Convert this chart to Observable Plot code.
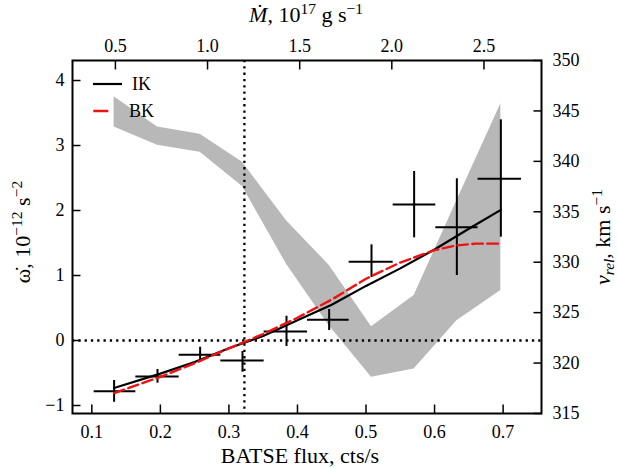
<!DOCTYPE html>
<html>
<head>
<meta charset="utf-8">
<script src="https://cdn.jsdelivr.net/npm/d3@7"></script>
<script src="https://cdn.jsdelivr.net/npm/@observablehq/plot@0.6"></script>
<style>
  html, body { margin: 0; padding: 0; background: #fff; }
  #chart { width: 617px; height: 468px; }
  #chart svg, #chart svg text { font-family: "Liberation Serif", "Times New Roman", Times, serif !important; }
</style>
</head>
<body>
<div id="chart"></div>
<script>
// ---- data ----
const fluxBins = [0.1325, 0.1958, 0.2580, 0.3198, 0.3840, 0.4462, 0.5080, 0.5702, 0.6325, 0.6967];
const fluxLo   = [0.1034, 0.1642, 0.2274, 0.2882, 0.3514, 0.4147, 0.4754, 0.5396, 0.6018, 0.6635];
const fluxHi   = [0.1642, 0.2274, 0.2882, 0.3514, 0.4147, 0.4754, 0.5396, 0.6018, 0.6635, 0.7268];
const omegaObs = [-0.78, -0.554, -0.22, -0.308, 0.138, 0.318, 1.21, 2.092, 1.743, 2.488];
const omegaLo  = [-0.95, -0.657, -0.334, -0.488, -0.092, 0.154, 0.97, 1.58, 1.0, 1.59];
const omegaHi  = [-0.615, -0.446, -0.103, -0.169, 0.374, 0.477, 1.472, 2.6, 2.488, 3.395];

const vrelLo = [343.4, 341.6, 340.9, 337.5, 329.8, 323.7, 318.6, 319.4, 324.2, 327.2];
const vrelHi = [346.4, 343.4, 342.7, 339.9, 334.1, 329.7, 323.6, 326.7, 336.1, 345.7];

const ikFlux  = [0.1325, 0.2, 0.25, 0.3, 0.35, 0.4, 0.45, 0.5, 0.55, 0.6, 0.65, 0.6967];
const ikOmega = [-0.73, -0.51, -0.33, -0.12, 0.07, 0.31, 0.55, 0.84, 1.11, 1.40, 1.72, 2.01];

const bkFlux  = [0.1325, 0.2, 0.25, 0.3, 0.35, 0.4, 0.45, 0.5, 0.55, 0.6, 0.63, 0.66, 0.6967];
const bkOmega = [-0.81, -0.56, -0.35, -0.12, 0.10, 0.35, 0.63, 0.95, 1.20, 1.39, 1.46, 1.49, 1.49];

const fluxTicks  = [0.1, 0.2, 0.3, 0.4, 0.5, 0.6, 0.7];
const mdotTicks  = [0.5, 1.0, 1.5, 2.0, 2.5];
const omegaTicks = [-1, 0, 1, 2, 3, 4];
const vrelTicks  = [315, 320, 325, 330, 335, 340, 345, 350];
const mdotMark = 1.2;

// ---- scale relations ----
const xDomain = [0.0718, 0.756];
const yDomain = [-1.123, 4.308];
const vDomain = [315, 350];
const mdotPerFlux = 3.72;
const mdotToFlux = m => m / mdotPerFlux;
const vToW = v => yDomain[0] + (v - vDomain[0]) / (vDomain[1] - vDomain[0]) * (yDomain[1] - yDomain[0]);
const wToV = w => vDomain[0] + (w - yDomain[0]) / (yDomain[1] - yDomain[0]) * (vDomain[1] - vDomain[0]);
const minus = d => (d < 0 ? "\u2212" + Math.abs(d) : String(d));

const crosses = fluxBins.map((f, i) => ({f, lo: fluxLo[i], hi: fluxHi[i], w: omegaObs[i], wlo: omegaLo[i], whi: omegaHi[i]}));
const band = fluxBins.map((f, i) => ({f, lo: vrelLo[i], hi: vrelHi[i]}));
const ik = ikFlux.map((f, i) => ({f, w: ikOmega[i]}));
const bk = bkFlux.map((f, i) => ({f, w: bkOmega[i]}));

const FONT = "Liberation Serif, Times New Roman, Times, serif";
const RED = "#ee1111";
const TICK = 8.5;

// legend handles (drawn below the band, as in the reference)
const legendLines = () => {
  const g = d3.create("svg:g");
  g.append("line").attr("x1", 93).attr("x2", 122).attr("y1", 84).attr("y2", 84)
    .attr("stroke", "black").attr("stroke-width", 2.2);
  g.append("line").attr("x1", 93.3).attr("x2", 122).attr("y1", 111).attr("y2", 111)
    .attr("stroke", RED).attr("stroke-width", 2.4).attr("stroke-dasharray", "15,6");
  return g.node();
};
const legendText = () => {
  const g = d3.create("svg:g").attr("font-size", 18).attr("fill", "black");
  g.append("text").attr("x", 141.5).attr("y", 90).text("IK");
  g.append("text").attr("x", 141.5).attr("y", 117).text("BK");
  return g.node();
};

const chart = Plot.plot({
  width: 617,
  height: 468,
  marginLeft: 72,
  marginRight: 76,
  marginTop: 60,
  marginBottom: 55,
  style: {fontFamily: FONT, fontSize: "18px", background: "white", color: "black", overflow: "visible"},
  x: {domain: xDomain},
  y: {domain: yDomain},
  marks: [
    legendLines,
    Plot.areaY(band, {x: "f", y1: d => vToW(d.lo), y2: d => vToW(d.hi), fill: "#b8b8b8"}),
    Plot.ruleY([0], {stroke: "black", strokeWidth: 2.3, strokeDasharray: "2.3,4"}),
    Plot.ruleX([mdotToFlux(mdotMark)], {stroke: "black", strokeWidth: 2.3, strokeDasharray: "2.3,4"}),
    Plot.ruleX(crosses, {x: "f", y1: "wlo", y2: "whi", stroke: "black", strokeWidth: 2}),
    Plot.ruleY(crosses, {y: "w", x1: "lo", x2: "hi", stroke: "black", strokeWidth: 2}),
    Plot.line(ik, {x: "f", y: "w", stroke: "black", strokeWidth: 2.2}),
    Plot.line(bk, {x: "f", y: "w", stroke: RED, strokeWidth: 2.4, strokeDasharray: "10.5,4.5"}),
    legendText,
    Plot.axisX(fluxTicks, {anchor: "bottom", tickSize: -TICK, tickPadding: 20.5, strokeWidth: 1.5, tickFormat: d => d.toFixed(1), label: null, fontSize: 18}),
    Plot.axisX(mdotTicks.map(mdotToFlux), {anchor: "top", tickSize: -TICK, tickPadding: 17.5, strokeWidth: 1.5, tickFormat: d => (d * mdotPerFlux).toFixed(1), label: null, fontSize: 18}),
    Plot.axisY(omegaTicks, {anchor: "left", tickSize: -TICK, tickPadding: 16.5, strokeWidth: 1.5, tickFormat: minus, label: null, fontSize: 18}),
    Plot.axisY(vrelTicks.map(vToW), {anchor: "right", tickSize: -TICK, tickPadding: 19.5, strokeWidth: 1.5, tickFormat: d => String(Math.round(wToV(d))), label: null, fontSize: 18}),
    Plot.frame({stroke: "black", strokeWidth: 2})
  ]
});

document.getElementById("chart").appendChild(chart);

// axis titles
const svgSel = d3.select(chart);
const titles = svgSel.append("g").attr("fill", "black").attr("font-size", 22);

const topTitle = titles.append("text").attr("x", 306).attr("y", 22).attr("text-anchor", "middle");
topTitle.append("tspan").attr("font-style", "italic").text("\u1E40");
topTitle.append("tspan").text(", 10");
topTitle.append("tspan").attr("font-size", 15.5).attr("dy", -8).text("17");
topTitle.append("tspan").attr("dy", 8).text(" g s");
topTitle.append("tspan").attr("font-size", 15.5).attr("dy", -8).text("\u22121");

titles.append("text").attr("x", 300).attr("y", 463).attr("text-anchor", "middle").text("BATSE flux, cts/s");

const leftTitle = titles.append("text").attr("transform", "translate(30,232) rotate(-90)").attr("text-anchor", "middle");
leftTitle.append("tspan").text("\u03C9\u0307");
leftTitle.append("tspan").text(", 10");
leftTitle.append("tspan").attr("font-size", 15.5).attr("dy", -8).text("\u221212");
leftTitle.append("tspan").attr("dy", 8).text(" s");
leftTitle.append("tspan").attr("font-size", 15.5).attr("dy", -8).text("\u22122");

const rightTitle = titles.append("text").attr("transform", "translate(610,237) rotate(-90)").attr("text-anchor", "middle");
rightTitle.append("tspan").attr("font-style", "italic").text("v");
rightTitle.append("tspan").attr("font-style", "italic").attr("font-size", 15.5).attr("dy", 4).text("rel");
rightTitle.append("tspan").attr("dy", -4).text(", km s");
rightTitle.append("tspan").attr("font-size", 15.5).attr("dy", -8).text("\u22121");
</script>
</body>
</html>
